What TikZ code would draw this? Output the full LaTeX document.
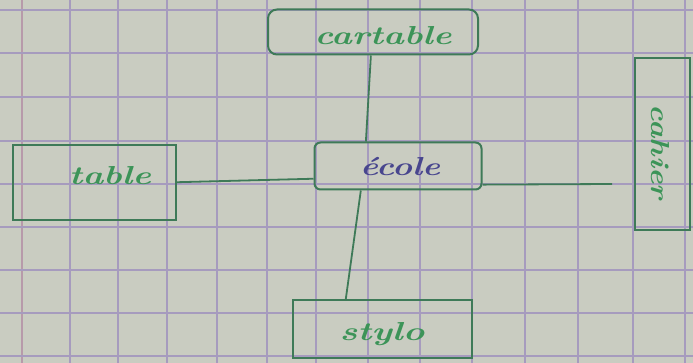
\documentclass[tikz,border=0pt]{standalone}
\usepackage{graphicx}
\usetikzlibrary{calc}
\definecolor{paper}{HTML}{C9CCC1}
\definecolor{gridline}{HTML}{A69BBE}
\definecolor{marginline}{HTML}{B79AAA}
\definecolor{inkbox}{HTML}{3E7A58}
\definecolor{inkgreen}{HTML}{3C9458}
\definecolor{inkblue}{HTML}{48468E}
\tikzset{
  x=1pt, y=-1pt,
  box/.style={draw=inkbox, line width=2pt, inner sep=0pt},
  link/.style={draw=inkbox, line width=1.8pt},
  word/.style={font=\fontsize{26}{28}\selectfont\bfseries\itshape, text=inkgreen, inner sep=0pt},
}
\begin{document}
\begin{tikzpicture}
  % paper and squared grid
  \fill[paper] (0,0) rectangle (693,363);
  \useasboundingbox (0,0) rectangle (693,363);
  \foreach \gx in {70,118,167,217,267,316,368,420,472,525,578,633,685}
    \draw[gridline, line width=1.5pt] (\gx,0) -- (\gx,363);
  \draw[marginline, line width=1.5pt] (22,0) -- (22,363);
  \foreach \gy in {10,53,97,141,184,227,270,313,356}
    \draw[gridline, line width=1.5pt] (0,\gy) -- (693,\gy);

  % boxes
  \node[box, rounded corners=9pt, minimum width=210pt, minimum height=45pt] (cartable) at (373,32) {};
  \node[box, rounded corners=6pt, minimum width=167pt, minimum height=47pt] (ecole) at (398,166) {};
  \node[box, minimum width=163pt, minimum height=75pt] (table) at (94,183) {};
  \node[box, minimum width=55pt, minimum height=172pt] (cahier) at (662,144) {};
  \node[box, minimum width=179pt, minimum height=58pt] (stylo) at (382,329) {};

  % handwritten words
  \node[word] (tcartable) at (383,36) {\scalebox{1.35}[1]{cartable}};
  \node[word, text=inkblue] (tecole) at (400,167) {\scalebox{1.3}[1]{école}};
  \node[word] (ttable) at (110,176) {\scalebox{1.35}[1]{table}};
  \node[word, rotate=-90] (tcahier) at (660,152) {\scalebox{1.2}[1]{cahier}};
  \node[word] (tstylo) at (382,334) {\scalebox{1.4}[1]{stylo}};

  % connectors
  \coordinate (cahierend) at (612,184);
  \draw[link] ($(cartable.south west)!0.49!(cartable.south east)$) -- ($(ecole.north west)!0.31!(ecole.north east)$);
  \draw[link] ($(table.north east)!0.49!(table.south east)$) -- ($(ecole.north west)!0.76!(ecole.south west)$);
  \draw[link] ($(ecole.north east)!0.88!(ecole.south east)$) -- (cahierend);
  \draw[link] ($(stylo.north west)!0.3!(stylo.north east)$) -- ($(ecole.south west)!0.28!(ecole.south east)$);
\end{tikzpicture}
\end{document}
